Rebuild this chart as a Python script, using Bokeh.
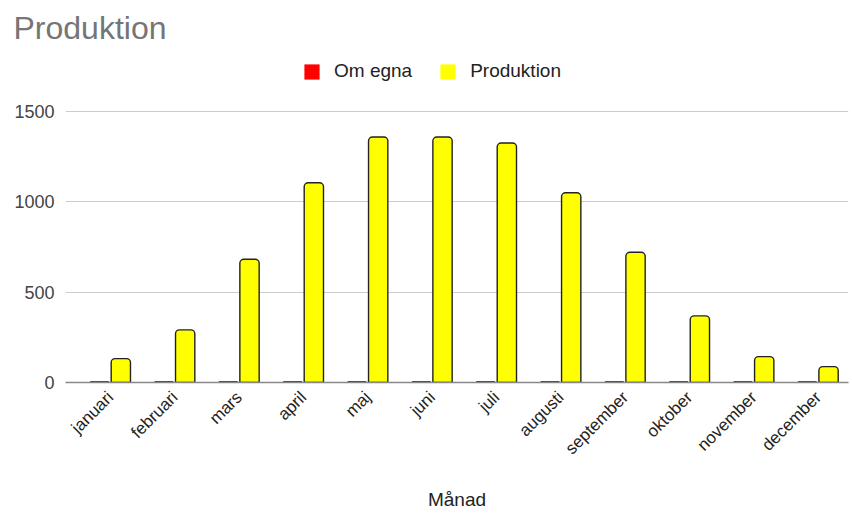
from bokeh.plotting import figure
from bokeh.models import Range1d, FixedTicker, Legend, LegendItem, ColumnDataSource
from bokeh.transform import dodge
from bokeh.embed import file_html
from bokeh.resources import INLINE
from math import pi

months = ["januari", "februari", "mars", "april", "maj", "juni",
          "juli", "augusti", "september", "oktober", "november", "december"]
om_egna = [4, 4, 4, 4, 4, 4, 4, 4, 4, 4, 4, 4]
produktion = [132, 291, 681, 1104, 1357, 1357, 1324, 1049, 720, 368, 143, 88]
y_ticks = [0, 500, 1000, 1500]

idx = list(range(len(months)))
src = ColumnDataSource(dict(x=idx, om=om_egna, prod=produktion))

p = figure(width=852, height=513, output_backend="svg", toolbar_location=None,
           x_range=Range1d(-0.7, 11.47), y_range=Range1d(0, 1824),
           min_border_left=65, min_border_right=4, min_border_top=50,
           min_border_bottom=131)

p.vbar(x=dodge("x", -0.17), top="om", width=0.28, source=src,
       fill_color="#ff0000", line_color="#111111", line_width=1.2)
p.vbar(x=dodge("x", 0.16), top="prod", width=0.30, source=src,
       fill_color="#ffff00", line_color="#222222", line_width=1.4,
       border_radius=(4, 4, 0, 0))

r_om = p.rect(x=[0], y=[0], width=0, height=0, fill_color="#ff0000", line_color=None)
r_pr = p.rect(x=[0], y=[0], width=0, height=0, fill_color="#ffff00", line_color=None)

legend = Legend(items=[LegendItem(label="Om egna", renderers=[r_om]),
                       LegendItem(label="Produktion", renderers=[r_pr])],
                orientation="horizontal", location=(237, 300),
                label_text_font="Liberation Sans", label_text_font_size="19px",
                label_text_color="#222222", glyph_width=19, glyph_height=19,
                label_standoff=13, spacing=26, padding=4, margin=0,
                border_line_color=None, background_fill_alpha=0)
p.add_layout(legend, "center")

p.title.text = "Produktion"
p.title.text_font = "Liberation Sans"
p.title.text_font_size = "32px"
p.title.text_font_style = "normal"
p.title.text_color = "#757575"
p.title.align = "left"
p.title.offset = -52
p.title.standoff = 14

p.xaxis.ticker = FixedTicker(ticks=idx)
p.xaxis.major_label_overrides = {i: m for i, m in zip(idx, months)}
p.xaxis.major_label_orientation = pi / 4
p.xaxis.major_label_text_font = "Liberation Sans"
p.xaxis.major_label_text_font_size = "17px"
p.xaxis.major_label_text_color = "#222222"
p.xaxis.major_tick_line_color = None
p.xaxis.minor_tick_line_color = None
p.xaxis.axis_line_color = "#888888"
p.xaxis.axis_line_width = 1.5
p.xaxis.axis_label = "Månad"
p.xaxis.axis_label_text_font = "Liberation Sans"
p.xaxis.axis_label_text_font_size = "19px"
p.xaxis.axis_label_text_font_style = "normal"
p.xaxis.axis_label_text_color = "#222222"
p.xaxis.axis_label_standoff = 21
p.xaxis.major_label_standoff = 6

p.yaxis.ticker = FixedTicker(ticks=y_ticks)
p.yaxis.major_label_text_font = "Liberation Sans"
p.yaxis.major_label_text_font_size = "18px"
p.yaxis.major_label_text_color = "#444444"
p.yaxis.major_tick_line_color = None
p.yaxis.minor_tick_line_color = None
p.yaxis.axis_line_color = None
p.yaxis.major_label_standoff = 5

p.xgrid.grid_line_color = None
p.ygrid.grid_line_color = "#cccccc"
p.outline_line_color = None

open("out.html", "w").write(file_html(p, INLINE))
